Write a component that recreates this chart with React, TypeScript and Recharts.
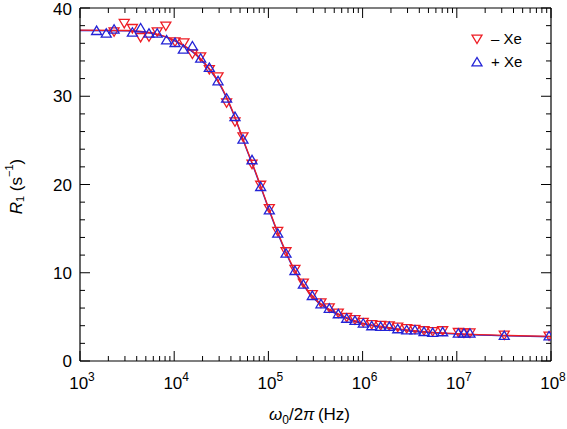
import React from 'react';
import { ComposedChart, Scatter, Line, XAxis, YAxis, Legend } from 'recharts';

// R1 relaxation dispersion
const plusXeFreq = [
  1500, 1900, 2300, 3600, 4400, 5400, 6600, 8300, 10200, 12500, 15600, 19100, 23600, 29200, 36000,
  44200, 53700, 67000, 82800, 102300, 125600, 153800, 191400, 235000, 292400, 361400, 442600,
  552100, 677600, 829800, 1016000, 1250000, 1556000, 1919000, 2360000, 2938000, 3597000, 4487000,
  5546000, 7079000, 10380000, 11910000, 13800000, 31900000, 95300000,
];
const plusXeR = [
  37.43, 37.13, 37.59, 37.25, 37.73, 37.13, 37.13, 36.37, 36.07, 35.32, 35.69, 34.3, 33.24, 31.73,
  29.77, 27.68, 25.12, 22.78, 19.75, 17.11, 14.47, 12.2, 10.23, 8.69, 7.4, 6.46, 5.95, 5.33, 4.82,
  4.57, 4.27, 3.97, 3.89, 3.89, 3.63, 3.51, 3.51, 3.32, 3.21, 3.29, 3.14, 3.14, 3.14, 2.87, 2.83,
];

const minusXeFreq = [
  2300, 2950, 3600, 4400, 5400, 6600, 8150, 10200, 12700, 15600, 19100, 23600, 29200, 36000, 44200,
  53700, 67000, 82800, 102300, 125600, 153800, 191400, 235000, 292400, 361400, 442600, 552100,
  677600, 829800, 1016000, 1250000, 1556000, 1919000, 2360000, 2938000, 3597000, 4487000, 5546000,
  7079000, 10380000, 11910000, 13800000, 31900000, 95300000,
];
const minusXeR = [
  37.31, 38.27, 37.7, 36.68, 36.75, 37.31, 37.96, 36.18, 36.07, 34.79, 34.48, 33.05, 32.22, 29.27,
  27.12, 25.42, 22.32, 19.94, 17.3, 14.7, 12.4, 10.4, 8.85, 7.55, 6.6, 6.05, 5.45, 4.95, 4.7, 4.4,
  4.15, 4.05, 4.0, 3.85, 3.7, 3.6, 3.45, 3.35, 3.45, 3.25, 3.2, 3.2, 2.95, 2.85,
];

// fitted curves
const fitFreq = [
  1000, 3162, 5623, 10000, 17783, 31623, 42170, 56234, 74989, 100000, 133352, 177828, 237137,
  316228, 421697, 562341, 1000000, 1778000, 3162000, 5623000, 10000000, 31620000, 100000000,
];
const fitMinusR = [
  37.5, 37.45, 37.2, 36.35, 34.6, 31.1, 28.2, 24.6, 21.1, 17.4, 13.9, 10.9, 8.6, 7.0, 6.0, 5.3,
  4.3, 3.85, 3.5, 3.25, 3.1, 2.9, 2.8,
];
const fitPlusR = [
  37.45, 37.4, 37.15, 36.3, 34.5, 31.0, 28.1, 24.5, 21.0, 17.3, 13.8, 10.8, 8.5, 6.9, 5.9, 5.2,
  4.2, 3.75, 3.4, 3.2, 3.05, 2.85, 2.75,
];

const xDecades = [3, 4, 5, 6, 7, 8];
const minorMults = [2, 3, 4, 5, 6, 7, 8, 9];
const xTicks = xDecades.flatMap((d) =>
  d === 8 ? [10 ** d] : [10 ** d, ...minorMults.map((m) => m * 10 ** d)]
);
const yTicks = [0, 2, 4, 6, 8, 10, 12, 14, 16, 18, 20, 22, 24, 26, 28, 30, 32, 34, 36, 38, 40];

const RED = '#ee1d24';
const BLUE = '#2323d6';
const FONT = '"Liberation Sans", Arial, sans-serif';

const toPoints = (xs: number[], ys: number[]) => xs.map((x, i) => ({ x, y: ys[i] }));
const plusData = toPoints(plusXeFreq, plusXeR);
const minusData = toPoints(minusXeFreq, minusXeR);
const fitMinus = toPoints(fitFreq, fitMinusR);
const fitPlus = toPoints(fitFreq, fitPlusR);

const isMajorX = (v: number) => {
  const e = Math.log10(v);
  return Math.abs(e - Math.round(e)) < 1e-6;
};

const UpTri = ({ cx, cy, color }: any) => (
  <polygon
    points={`${cx - 5},${cy + 3.8} ${cx + 5},${cy + 3.8} ${cx},${cy - 4.6}`}
    fill="none"
    stroke={color}
    strokeWidth={1.3}
  />
);
const DownTri = ({ cx, cy, color }: any) => (
  <polygon
    points={`${cx - 5},${cy - 3.8} ${cx + 5},${cy - 3.8} ${cx},${cy + 4.6}`}
    fill="none"
    stroke={color}
    strokeWidth={1.3}
  />
);

const BottomTick = ({ x, y, payload }: any) => {
  const v = payload.value;
  const major = isMajorX(v);
  return (
    <g>
      <line x1={x} x2={x} y1={y} y2={y - (major ? 10 : 5)} stroke="#000" />
      {major && (
        <text x={x + 2} y={y + 28} textAnchor="middle" fontSize={17} fontFamily={FONT} fill="#000">
          10
          <tspan dy={-8} fontSize={12}>
            {Math.round(Math.log10(v))}
          </tspan>
        </text>
      )}
    </g>
  );
};

const TopTick = ({ x, y, payload }: any) => (
  <line x1={x} x2={x} y1={y} y2={y + (isMajorX(payload.value) ? 10 : 5)} stroke="#000" />
);

const LeftTick = ({ x, y, payload }: any) => {
  const major = payload.value % 10 === 0;
  return (
    <g>
      <line x1={x} x2={x + (major ? 10 : 5)} y1={y} y2={y} stroke="#000" />
      {major && (
        <text
          x={x - 8}
          y={payload.value === 40 ? y + 7 : y + 6}
          textAnchor="end"
          fontSize={17}
          fontFamily={FONT}
          fill="#000"
        >
          {payload.value}
        </text>
      )}
    </g>
  );
};

const RightTick = ({ x, y, payload }: any) => (
  <line x1={x} x2={x - (payload.value % 10 === 0 ? 10 : 5)} y1={y} y2={y} stroke="#000" />
);

const XLabel = ({ viewBox }: any) => (
  <text
    x={viewBox.x + viewBox.width / 2 - 6}
    y={viewBox.y + 59}
    textAnchor="middle"
    fontSize={17}
    fontFamily={FONT}
    fill="#000"
  >
    <tspan fontStyle="italic">ω</tspan>
    <tspan dy={4} fontSize={12}>0</tspan>
    <tspan dy={-4}>/2</tspan>
    <tspan fontStyle="italic">π</tspan>
    <tspan>{'\u2009(Hz)'}</tspan>
  </text>
);

const YLabel = ({ viewBox }: any) => {
  const cx = 16;
  const cy = viewBox.y + viewBox.height / 2 + 2;
  return (
    <text
      x={cx}
      y={cy}
      transform={`rotate(-90, ${cx}, ${cy})`}
      textAnchor="middle"
      dominantBaseline="central"
      fontSize={17}
      fontFamily={FONT}
      fill="#000"
    >
      <tspan fontStyle="italic">R</tspan>
      <tspan dy={4} fontSize={11}>1</tspan>
      <tspan dy={-4}>{' (s'}</tspan>
      <tspan dy={-7} fontSize={11}>−1</tspan>
      <tspan dy={7}>)</tspan>
    </text>
  );
};

const LegendBox = () => (
  <div style={{ fontFamily: FONT, fontSize: 15, color: '#000', lineHeight: '23px' }}>
    {[
      { label: '– Xe', color: RED, down: true },
      { label: '+ Xe', color: BLUE, down: false },
    ].map((item) => (
      <div key={item.label} style={{ display: 'flex', alignItems: 'center' }}>
        <svg width={20} height={14} style={{ marginRight: 4 }}>
          {item.down ? <DownTri cx={10} cy={7} color={item.color} /> : <UpTri cx={10} cy={7} color={item.color} />}
        </svg>
        <span>{item.label}</span>
      </div>
    ))}
  </div>
);

export default function App() {
  return (
    <div style={{ position: 'absolute', left: 0, top: 0, background: '#fff' }}>
      <ComposedChart width={567} height={429} margin={{ top: 3, right: 6, bottom: 38, left: 40 }}>
        <XAxis
          dataKey="x"
          type="number"
          scale="log"
          domain={[1000, 100000000]}
          ticks={xTicks}
          interval={0}
          allowDataOverflow
          height={30}
          tickSize={0}
          tickMargin={0}
          tick={<BottomTick />}
          axisLine={{ stroke: '#000', strokeWidth: 1.2 }}
          label={<XLabel />}
        />
        <XAxis
          xAxisId="top"
          orientation="top"
          dataKey="x"
          type="number"
          scale="log"
          domain={[1000, 100000000]}
          ticks={xTicks}
          interval={0}
          allowDataOverflow
          height={5}
          tickSize={0}
          tickMargin={0}
          tick={<TopTick />}
          axisLine={{ stroke: '#000', strokeWidth: 1.2 }}
        />
        <YAxis
          type="number"
          domain={[0, 40]}
          ticks={yTicks}
          interval={0}
          allowDataOverflow
          width={40}
          tickSize={0}
          tickMargin={0}
          tick={<LeftTick />}
          axisLine={{ stroke: '#000', strokeWidth: 1.2 }}
          label={<YLabel />}
        />
        <YAxis
          yAxisId="right"
          orientation="right"
          type="number"
          domain={[0, 40]}
          ticks={yTicks}
          interval={0}
          allowDataOverflow
          width={10}
          tickSize={0}
          tickMargin={0}
          tick={<RightTick />}
          axisLine={{ stroke: '#000', strokeWidth: 1.2 }}
        />
        <Legend
          layout="horizontal"
          verticalAlign="middle"
          align="center"
          content={<LegendBox />}
          wrapperStyle={{ position: 'absolute', left: 467, top: 27, width: 80 }}
        />
        <Line
          data={fitPlus}
          dataKey="y"
          type="monotone"
          stroke={BLUE}
          strokeWidth={1.3}
          dot={false}
          isAnimationActive={false}
          legendType="none"
        />
        <Line
          data={fitMinus}
          dataKey="y"
          type="monotone"
          stroke={RED}
          strokeWidth={1.3}
          dot={false}
          isAnimationActive={false}
          legendType="none"
        />
        <Scatter
          data={minusData}
          dataKey="y"
          shape={(p: any) => <DownTri cx={p.cx} cy={p.cy} color={RED} />}
          isAnimationActive={false}
        />
        <Scatter
          data={plusData}
          dataKey="y"
          shape={(p: any) => <UpTri cx={p.cx} cy={p.cy} color={BLUE} />}
          isAnimationActive={false}
        />
      </ComposedChart>
    </div>
  );
}
